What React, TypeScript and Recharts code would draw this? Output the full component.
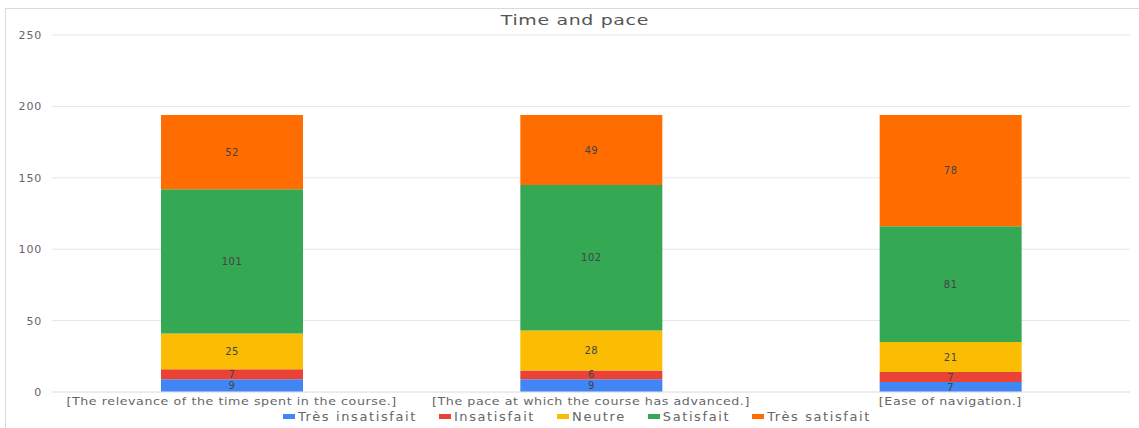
import React from "react";
import { BarChart, Bar, XAxis, YAxis, CartesianGrid, Legend, LabelList } from "recharts";

const categories = [
  "[The relevance of the time spent in the course.]",
  "[The pace at which the course has advanced.]",
  "[Ease of navigation.]",
];
const tresInsatisfait = [9, 9, 7];
const insatisfait = [7, 6, 7];
const neutre = [25, 28, 21];
const satisfait = [101, 102, 81];
const tresSatisfait = [52, 49, 78];
const yTicks = [0, 50, 100, 150, 200, 250];

const series = [
  { key: "tresInsatisfait", name: "Très insatisfait", color: "#4285F4", values: tresInsatisfait },
  { key: "insatisfait", name: "Insatisfait", color: "#EA4335", values: insatisfait },
  { key: "neutre", name: "Neutre", color: "#FBBC04", values: neutre },
  { key: "satisfait", name: "Satisfait", color: "#34A853", values: satisfait },
  { key: "tresSatisfait", name: "Très satisfait", color: "#FF6D01", values: tresSatisfait },
];

const data = categories.map((c, i) => {
  const row: Record<string, any> = { category: c };
  series.forEach((s) => (row[s.key] = s.values[i]));
  return row;
});

const font = "'DejaVu Sans', Arial, sans-serif";

const LegendContent = () => (
  <div
    style={{
      display: "flex",
      justifyContent: "center",
      alignItems: "center",
      fontSize: 13,
      letterSpacing: 1.6,
      color: "#666",
      fontFamily: font,
      paddingLeft: 40,
    }}
  >
    {series.map((s) => (
      <div key={s.key} style={{ display: "flex", alignItems: "center", marginRight: 22 }}>
        <span
          style={{ display: "inline-block", width: 12, height: 5, background: s.color, marginRight: 3 }}
        />
        <span>{s.name}</span>
      </div>
    ))}
  </div>
);

const XTick = (props: any) => {
  const { x, y, payload } = props;
  return (
    <text
      transform={`translate(${x},${y}) scale(1.15,1)`}
      textAnchor="middle"
      dy="0.71em"
      fill="#666"
      fontSize={11}
      letterSpacing={0.5}
      fontFamily={font}
    >
      {payload.value}
    </text>
  );
};

export default function App() {
  return (
    <div
      style={{
        position: "absolute",
        left: 5,
        top: 8,
        width: 1134,
        height: 420,
        borderTop: "1px solid #d9d9d9",
        borderLeft: "1px solid #d9d9d9",
        background: "#fff",
        fontFamily: font,
      }}
    >
      <div
        style={{
          position: "absolute",
          left: 4,
          width: 1130,
          top: 3,
          textAlign: "center",
          fontSize: 14,
          color: "#555",
        }}
      >
        <span style={{ display: "inline-block", transform: "scaleX(1.35)", letterSpacing: 0.5 }}>
          Time and pace
        </span>
      </div>
      <BarChart
        width={1134}
        height={420}
        data={data}
        margin={{ top: 26, right: 10, left: 0, bottom: 0 }}
        style={{ fontFamily: font }}
      >
        <CartesianGrid vertical={false} stroke="#e6e6e6" />
        <XAxis
          dataKey="category"
          axisLine={{ stroke: "#e6e6e6" }}
          tickLine={false}
          tickSize={0}
          tickMargin={5}
          height={17}
          interval={0}
          tick={<XTick />}
        />
        <YAxis
          width={46}
          domain={[0, 250]}
          ticks={yTicks}
          axisLine={false}
          tickLine={false}
          tickSize={0}
          tickMargin={10}
          tick={{ fill: "#666", fontSize: 11, letterSpacing: 0.8 }}
        />
        <Legend verticalAlign="bottom" height={20} content={LegendContent} />
        {series.map((s) => (
          <Bar
            key={s.key}
            dataKey={s.key}
            name={s.name}
            stackId="a"
            fill={s.color}
            barSize={142}
            isAnimationActive={false}
          >
            <LabelList dataKey={s.key} position="center" fill="#444" fontSize={10} letterSpacing={0.5} />
          </Bar>
        ))}
      </BarChart>
    </div>
  );
}
